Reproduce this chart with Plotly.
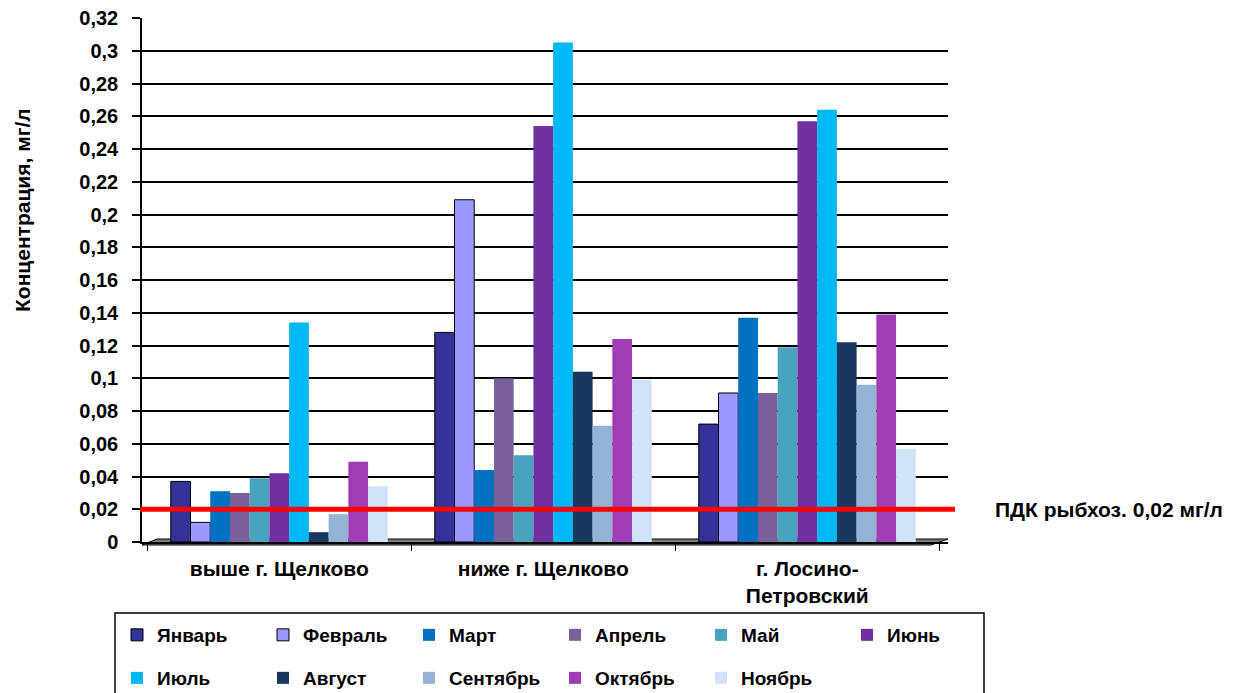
import plotly.graph_objects as go

categories = ["выше г. Щелково", "ниже г. Щелково", "г. Лосино-<br>Петровский"]
months = ["Январь", "Февраль", "Март", "Апрель", "Май", "Июнь",
          "Июль", "Август", "Сентябрь", "Октябрь", "Ноябрь"]
colors = ["#333399", "#9999FF", "#0070C0", "#7B619A", "#4AA3BE", "#7030A0",
          "#00B8F5", "#17375E", "#95B3D7", "#A03DB5", "#D0E2F6"]

jan = [0.037, 0.128, 0.072]
feb = [0.012, 0.209, 0.091]
mar = [0.031, 0.044, 0.137]
apr = [0.030, 0.100, 0.091]
may = [0.039, 0.053, 0.119]
jun = [0.042, 0.254, 0.257]
jul = [0.134, 0.305, 0.264]
aug = [0.006, 0.104, 0.122]
sep = [0.017, 0.071, 0.096]
octo = [0.049, 0.124, 0.139]
nov = [0.034, 0.099, 0.057]
series = [jan, feb, mar, apr, may, jun, jul, aug, sep, octo, nov]

pdk_value = 0.02
pdk_label = "ПДК рыбхоз. 0,02 мг/л"
y_title = "Концентрация, мг/л"
y_tickvals = [0, 0.02, 0.04, 0.06, 0.08, 0.1, 0.12, 0.14, 0.16, 0.18, 0.2,
              0.22, 0.24, 0.26, 0.28, 0.3, 0.32]
y_ticktext = ["0", "0,02", "0,04", "0,06", "0,08", "0,1", "0,12", "0,14", "0,16",
              "0,18", "0,2", "0,22", "0,24", "0,26", "0,28", "0,3", "0,32"]

FONT = "Liberation Sans, Arial, sans-serif"

fig = go.Figure()
for i, (name, vals, col) in enumerate(zip(months, series, colors)):
    outlined = i < 2
    fig.add_trace(go.Bar(
        x=categories, y=vals, name=name,
        marker=dict(color=col,
                    line=dict(color="#000000" if outlined else col,
                              width=1 if outlined else 0)),
        legend="legend" if i < 6 else "legend2",
    ))

W, H = 1240, 693
L, R, T, B = 142, 1240 - 948, 18, 693 - 542
pw, ph = W - L - R, H - T - B


def px(x):
    return (x - L) / pw


def py(y):
    return (H - B - y) / ph


shapes = [
    # floor
    dict(type="path", xref="paper", yref="paper", layer="below",
         path=f"M {px(142)},{py(545)} L {px(931)},{py(545)} L {px(948)},{py(539)} L {px(157)},{py(539)} Z",
         fillcolor="#7f7f7f", line=dict(color="#000000", width=1)),
    # PDK line
    dict(type="line", xref="paper", yref="y", x0=px(140), x1=px(955),
         y0=pdk_value, y1=pdk_value, line=dict(color="#FF0000", width=5)),
    # legend box
    dict(type="rect", xref="paper", yref="paper", x0=px(115), x1=px(984),
         y0=py(613), y1=py(705), line=dict(color="#000000", width=1.5),
         fillcolor="rgba(0,0,0,0)"),
]

annotations = [
    dict(text=pdk_label, xref="paper", yref="y", x=px(993), y=pdk_value,
         xanchor="left", yanchor="middle", showarrow=False,
         font=dict(family=FONT, size=21, color="#000000", weight="bold")),
    dict(text=y_title, xref="paper", yref="paper", x=px(22), y=py(210),
         xanchor="center", yanchor="middle", textangle=-90, showarrow=False,
         font=dict(family=FONT, size=21, color="#000000", weight="bold")),
]

legend_common = dict(
    orientation="h", xref="paper", yref="paper", xanchor="left", yanchor="middle",
    entrywidth=101, entrywidthmode="pixels", bgcolor="rgba(0,0,0,0)",
    borderwidth=0, font=dict(family=FONT, size=19, color="#000000", weight="bold"),
    itemclick=False, itemdoubleclick=False,
)

fig.update_layout(
    width=W, height=H,
    margin=dict(l=L, r=R, t=T, b=B, autoexpand=False),
    paper_bgcolor="#FFFFFF", plot_bgcolor="#FFFFFF",
    barmode="group", bargap=0.178, bargroupgap=0,
    font=dict(family=FONT, color="#000000"),
    legend=dict(x=px(117), y=py(635), **legend_common),
    legend2=dict(x=px(117), y=py(678), **legend_common),
    shapes=shapes, annotations=annotations,
    xaxis=dict(
        type="category", range=[-0.52, 2.533], tickson="boundaries",
        ticks="outside", ticklen=7, tickcolor="#000000", tickwidth=1,
        showline=True, linecolor="#000000", linewidth=1.5,
        showgrid=False, ticklabelstandoff=7,
        tickfont=dict(family=FONT, size=21, color="#000000", weight="bold"),
    ),
    yaxis=dict(
        range=[0, 0.32], tickvals=y_tickvals, ticktext=y_ticktext,
        ticks="outside", ticklen=8, tickcolor="#000000", tickwidth=1.5,
        showline=True, linecolor="#000000", linewidth=1.5,
        showgrid=True, gridcolor="#000000", gridwidth=1.8, zeroline=False,
        ticklabelstandoff=10,
        tickfont=dict(family=FONT, size=20, color="#000000", weight="bold"),
    ),
)

fig.write_html("out.html")
